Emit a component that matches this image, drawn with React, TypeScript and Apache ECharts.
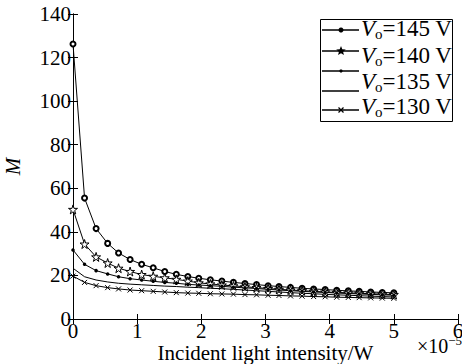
import { useEffect, useRef } from 'react';
import * as echarts from 'echarts';

const intensity = [0, 0.18, 0.36, 0.54, 0.71, 0.89, 1.07, 1.25, 1.43, 1.61, 1.79, 1.96, 2.14, 2.32, 2.5, 2.68, 2.86, 3.04, 3.21, 3.39, 3.57, 3.75, 3.93, 4.11, 4.29, 4.46, 4.64, 4.82, 5];
const m145 = [126.2, 55.5, 41.5, 34.7, 30.3, 27.3, 25.1, 23.5, 21.8, 20.5, 19.5, 18.7, 18.0, 17.4, 16.8, 16.3, 15.8, 15.3, 14.9, 14.5, 14.1, 13.8, 13.5, 13.2, 12.9, 12.7, 12.4, 12.2, 12.0];
const m140 = [50.3, 34.4, 28.5, 25.7, 23.3, 21.8, 20.4, 19.6, 18.9, 18.2, 17.4, 16.6, 16.1, 15.6, 15.2, 14.8, 14.4, 14.0, 13.6, 13.3, 13.0, 12.7, 12.4, 12.2, 12.0, 11.8, 11.6, 11.4, 11.2];
const m135 = [31.7, 25.1, 22.2, 20.7, 19.4, 18.5, 17.9, 17.3, 16.8, 16.4, 15.9, 15.6, 15.3, 15.0, 14.6, 14.3, 14.0, 13.6, 13.3, 13.0, 12.7, 12.4, 12.2, 11.9, 11.7, 11.5, 11.3, 11.1, 10.9];
const m4 = [23.3, 19.4, 17.9, 17.0, 16.4, 16.0, 15.7, 15.4, 15.1, 14.9, 14.6, 14.4, 14.1, 13.9, 13.6, 13.3, 13.0, 12.7, 12.4, 12.1, 11.8, 11.6, 11.3, 11.1, 10.9, 10.7, 10.5, 10.3, 10.1];
const m130 = [19.7, 16.8, 15.3, 14.4, 13.8, 13.3, 13.0, 12.7, 12.4, 12.1, 11.9, 11.8, 11.6, 11.5, 11.4, 11.2, 11.1, 10.9, 10.8, 10.6, 10.5, 10.3, 10.2, 10.0, 9.9, 9.8, 9.7, 9.6, 9.5];

const legendLabels = ['145', '140', '135', '130'];
const xTicks = { min: 0, max: 6, interval: 1 };
const yTicks = { min: 0, max: 140, interval: 20 };

const FONT = 'Liberation Serif';
const STAR = 'path://M50,0 L61,35 L98,35 L68,57 L79,91 L50,70 L21,91 L32,57 L2,35 L39,35 Z';
const CROSS = 'path://M0,0 L10,10 M10,0 L0,10';

function pairs(ys: number[]) {
  return intensity.map((x, i) => [x, ys[i]]);
}

function starPoints(cx: number, cy: number, R: number, r: number) {
  const pts: number[][] = [];
  for (let k = 0; k < 10; k++) {
    const a = -Math.PI / 2 + (k * Math.PI) / 5;
    const rad = k % 2 === 0 ? R : r;
    pts.push([cx + rad * Math.cos(a), cy + rad * Math.sin(a)]);
  }
  return pts;
}

export default function App() {
  const ref = useRef<HTMLDivElement>(null);
  useEffect(() => {
    const chart = echarts.init(ref.current!, null, { renderer: 'svg' });
    const lineStyle = { color: '#000', width: 1 };
    const base = { type: 'line' as const, lineStyle, color: '#000', z: 3 };
    const axisCommon = {
      axisLine: { show: true, lineStyle: { color: '#000', width: 1 } },
      axisTick: { show: true, inside: true, length: 5, lineStyle: { color: '#000' } },
      splitLine: { show: false },
    };
    const lx1 = 322, lx2 = 359, lcx = 341;
    const rowY = [30, 51, 71, 91, 110];
    const textY = [28, 55, 81, 106];
    const legendGraphics: any[] = [
      { type: 'rect', shape: { x: 320.5, y: 19.5, width: 132, height: 102 }, style: { fill: '#fff', stroke: '#000', lineWidth: 1 }, z: 10 },
    ];
    rowY.forEach((y) => {
      legendGraphics.push({ type: 'line', shape: { x1: lx1, y1: y, x2: lx2, y2: y }, style: { stroke: '#000', lineWidth: 1.5 }, z: 11 });
    });
    legendGraphics.push({ type: 'circle', shape: { cx: lcx, cy: rowY[0], r: 2.5 }, style: { fill: '#000' }, z: 12 });
    legendGraphics.push({ type: 'polygon', shape: { points: starPoints(lcx, rowY[1], 5, 2.2) }, style: { fill: '#000' }, z: 12 });
    legendGraphics.push({ type: 'circle', shape: { cx: lcx, cy: rowY[2], r: 1.6 }, style: { fill: '#000' }, z: 12 });
    legendGraphics.push({ type: 'line', shape: { x1: lcx - 2.5, y1: rowY[4] - 2.5, x2: lcx + 2.5, y2: rowY[4] + 2.5 }, style: { stroke: '#000', lineWidth: 1.2 }, z: 12 });
    legendGraphics.push({ type: 'line', shape: { x1: lcx - 2.5, y1: rowY[4] + 2.5, x2: lcx + 2.5, y2: rowY[4] - 2.5 }, style: { stroke: '#000', lineWidth: 1.2 }, z: 12 });
    legendLabels.forEach((lab, i) => {
      legendGraphics.push({
        type: 'text',
        x: 361,
        y: textY[i],
        z: 12,
        style: {
          text: `{v|V}{o|o}{t|=${lab} V}`,
          verticalAlign: 'middle',
          align: 'left',
          fill: '#000',
          rich: {
            v: { fontFamily: FONT, fontSize: 23, fontStyle: 'italic', fill: '#000' },
            o: { fontFamily: FONT, fontSize: 15, padding: [12, 0, 0, 0], fill: '#000' },
            t: { fontFamily: FONT, fontSize: 23, fill: '#000' },
          },
        },
      });
    });
    legendGraphics.push({
      type: 'text',
      x: 417,
      y: 346,
      style: {
        text: '{a|×10}{b|−5}',
        verticalAlign: 'middle',
        fill: '#000',
        rich: {
          a: { fontFamily: FONT, fontSize: 20, fill: '#000' },
          b: { fontFamily: FONT, fontSize: 13, padding: [0, 0, 11, 0], fill: '#000' },
        },
      },
    });

    chart.setOption({
      animation: false,
      backgroundColor: '#fff',
      textStyle: { fontFamily: FONT, color: '#000' },
      grid: { left: 73, top: 14, right: 4, bottom: 45, containLabel: false, outerBoundsMode: 'none' },
      xAxis: [
        {
          type: 'value', ...xTicks, ...axisCommon,
          name: 'Incident light intensity/W', nameLocation: 'middle', nameGap: 23, nameMoveOverlap: false,
          nameTextStyle: { fontFamily: FONT, fontSize: 21, color: '#000', lineHeight: 22 },
          axisLabel: { fontFamily: FONT, fontSize: 21, color: '#000', margin: 1 },
        },
        { type: 'value', position: 'top', ...xTicks, ...axisCommon, axisLabel: { show: false } },
      ],
      yAxis: [
        {
          type: 'value', ...yTicks, ...axisCommon,
          name: 'M', nameLocation: 'middle', nameGap: 50, nameRotate: 90,
          nameTextStyle: { fontFamily: FONT, fontSize: 21, fontStyle: 'italic', color: '#000' },
          axisLabel: { fontFamily: FONT, fontSize: 21, color: '#000', margin: 2 },
        },
        { type: 'value', position: 'right', ...yTicks, ...axisCommon, axisLabel: { show: false } },
      ],
      series: [
        { ...base, name: 'Vo=145 V', data: pairs(m145), symbol: 'emptyCircle', symbolSize: 5, itemStyle: { color: '#000', borderColor: '#000', borderWidth: 1 } },
        { ...base, name: 'Vo=140 V', data: pairs(m140), symbol: STAR, symbolSize: 9, itemStyle: { color: '#fff', borderColor: '#000', borderWidth: 1 } },
        { ...base, name: 'Vo=135 V', data: pairs(m135), symbol: 'circle', symbolSize: 3.5, itemStyle: { color: '#000' } },
        { ...base, name: 'Vo=135 V (line)', data: pairs(m4), symbol: 'none', showSymbol: false },
        { ...base, name: 'Vo=130 V', data: pairs(m130), symbol: CROSS, symbolSize: 5, itemStyle: { color: '#000', borderColor: '#000', borderWidth: 1 } },
      ],
      graphic: legendGraphics,
    });
    return () => chart.dispose();
  }, []);
  return <div ref={ref} style={{ position: 'absolute', left: 0, top: 0, width: 462, height: 364 }} />;
}
